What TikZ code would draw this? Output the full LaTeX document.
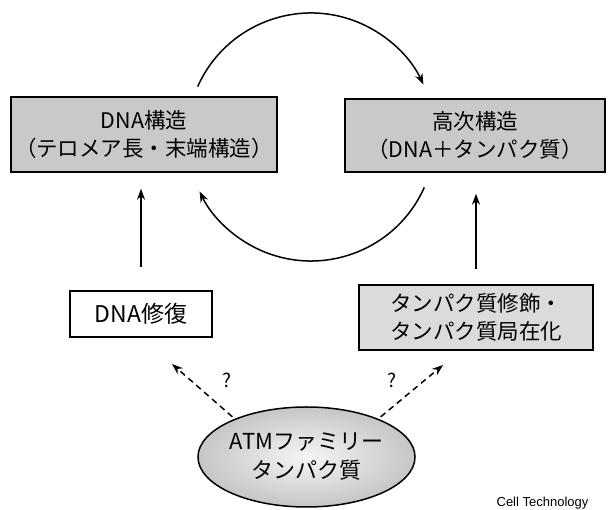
\documentclass[tikz,border=0pt]{standalone}
\usepackage{fontspec}
\setmainfont{Noto Sans CJK JP}
\newfontfamily\creditfont{Liberation Sans}
\usetikzlibrary{arrows.meta,shapes.geometric}
\begin{document}
\begin{tikzpicture}[x=1pt,y=1pt,
  box/.style={draw=black,line width=1.5pt,rectangle,align=center,inner sep=0pt,
    font=\fontsize{21.5}{28}\selectfont},
  darkbox/.style={box,fill=gray!42},
  lightbox/.style={box,fill=gray!28},
  arr/.style={line width=1.5pt,-{Stealth[length=11pt,width=8pt]}},
  dasharr/.style={line width=1.5pt,dashed,dash pattern=on 6pt off 4.5pt,-{Stealth[length=11pt,width=8pt]}},
  qmark/.style={font=\fontsize{19}{19}\selectfont,inner sep=0pt}]
\useasboundingbox (0,0) rectangle (608,510);
\fill[white] (0,0) rectangle (608,510);

\node[darkbox,minimum width=266,minimum height=75] (dna) at (144,375.5)
  {DNA構造\\（テロメア長・末端構造）};
\node[darkbox,minimum width=260,minimum height=73] (high) at (475,374.5)
  {高次構造\\（DNA＋タンパク質）};
\node[box,fill=white,minimum width=142,minimum height=46,font=\fontsize{23}{23}\selectfont] (repair) at (141,196)
  {DNA修復};
\node[lightbox,minimum width=234,minimum height=65] (mod) at (476,192.5)
  {タンパク質修飾・\\タンパク質局在化};
\node[draw=black,line width=1.5pt,ellipse,minimum width=217,minimum height=100,inner sep=0pt,
  align=center,font=\fontsize{22}{29}\selectfont,
  inner color=gray!8,outer color=gray!45] (atm) at (306.5,53)
  {ATMファミリー\\タンパク質};

\coordinate (cc) at (311,373);
\draw[arr] ([shift={(156:124)}]cc) arc[start angle=156,end angle=25,radius=124];
\draw[arr] ([shift={(-24:124)}]cc) arc[start angle=-24,end angle=-154,radius=124];

\draw[arr,shorten <=23pt,shorten >=16pt] (repair.north) -- (repair.north |- dna.south);
\draw[arr,shorten <=15pt,shorten >=21pt] (mod.north) -- (mod.north |- high.south);

\coordinate (tipL) at (172,146);
\coordinate (tipR) at (443,145);
\draw[dasharr,shorten <=3pt] (atm.152) -- (tipL);
\draw[dasharr,shorten <=3pt] (atm.28) -- (tipR);
\node[qmark] (q1) at (227,130) {?};
\node[qmark] (q2) at (392,130) {?};

\node[font=\creditfont\fontsize{13}{13}\selectfont,inner sep=0pt] (credit) at (542.5,7) {Cell Technology};
\end{tikzpicture}
\end{document}
